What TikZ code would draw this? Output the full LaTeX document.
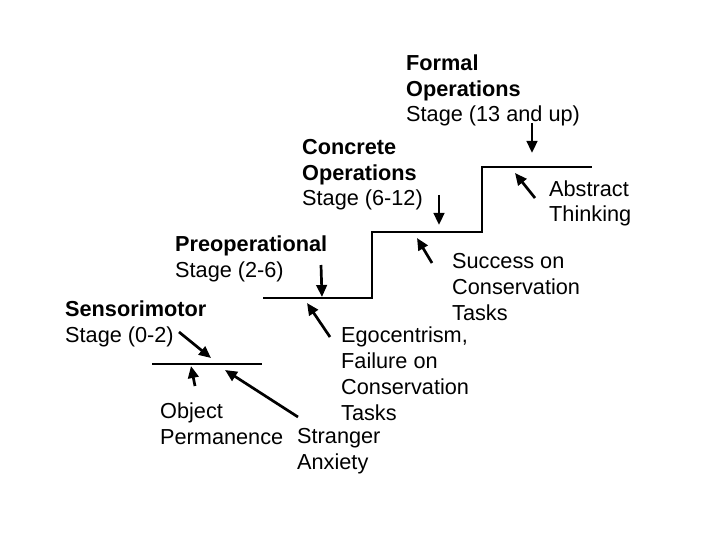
\documentclass[tikz,border=0pt]{standalone}
\usepackage{fontspec}
\setmainfont{Liberation Sans}
\usetikzlibrary{arrows.meta}

\begin{document}
\begin{tikzpicture}[x=1pt,y=-1pt,
  stagetext/.style={anchor=base west,align=left,inner sep=0pt,font=\fontsize{21.7}{25.7}\selectfont},
  pointer/.style={-{Triangle[length=12pt,width=10.5pt]},line width=2.7pt},
  stair/.style={line width=1.1pt}]
\useasboundingbox (0,0) rectangle (720,540);
% The staircase
\draw[stair] (152,364) -- (262,364);
\draw[stair] (263,298) -- (372,298) -- (372,232) -- (482,232) -- (482,167) -- (592,167);
% Stage names (placed by the baseline of their last line)
\node[stagetext] (sensori) at (65,342) {\textbf{Sensorimotor}\\Stage (0-2)};
\node[stagetext] (preop) at (175,277) {\textbf{Preoperational}\\Stage (2-6)};
\node[stagetext] (concrete) at (302,206) {\textbf{Concrete}\\\textbf{Operations}\\Stage (6-12)};
\node[stagetext] (formal) at (406,122) {\textbf{Formal}\\\textbf{Operations}\\Stage (13 and up)};
% What happens on each step
\node[stagetext] (object) at (160,444) {Object\\Permanence};
\node[stagetext] (stranger) at (297,469) {Stranger\\Anxiety};
\node[stagetext] (ego) at (341,420) {Egocentrism,\\Failure on\\Conservation\\Tasks};
\node[stagetext] (success) at (452,320) {Success on\\Conservation\\Tasks};
\node[stagetext] (abstract) at (549,222) {Abstract\\Thinking};
% Arrow ends
\coordinate (sensoritail) at (179,332);
\coordinate (sensorihead) at (211,358);
\coordinate (objecttail) at (195,386);
\coordinate (objecthead) at (191,366);
\coordinate (strangertail) at (298,417);
\coordinate (strangerhead) at (225,370);
\coordinate (preoptail) at (321,265);
\coordinate (preophead) at (322,297);
\coordinate (egotail) at (330,337);
\coordinate (egohead) at (307,303);
\coordinate (successtail) at (432,263);
\coordinate (successhead) at (417,238);
\coordinate (concretetail) at (439,195);
\coordinate (concretehead) at (439,225);
\coordinate (abstracttail) at (535,198);
\coordinate (abstracthead) at (515,173);
\coordinate (formaltail) at (532,123);
\coordinate (formalhead) at (532,153);
% Arrows
\draw[pointer] (sensoritail) -- (sensorihead);
\draw[pointer] (objecttail) -- (objecthead);
\draw[pointer] (strangertail) -- (strangerhead);
\draw[pointer] (preoptail) -- (preophead);
\draw[pointer] (egotail) -- (egohead);
\draw[pointer] (successtail) -- (successhead);
\draw[pointer] (concretetail) -- (concretehead);
\draw[pointer] (abstracttail) -- (abstracthead);
\draw[pointer] (formaltail) -- (formalhead);
\end{tikzpicture}
\end{document}
